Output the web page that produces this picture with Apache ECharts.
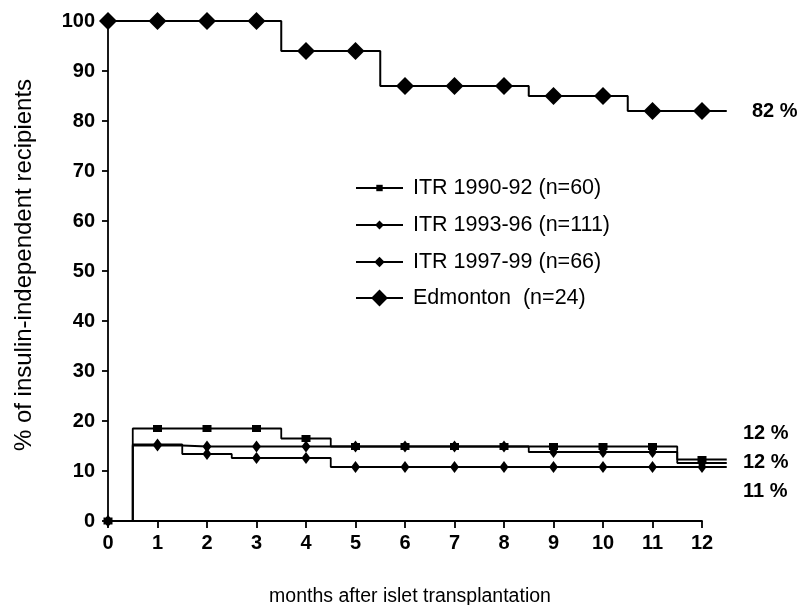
<!DOCTYPE html>
<html><head><meta charset="utf-8">
<script src="https://cdn.jsdelivr.net/npm/echarts@6/dist/echarts.min.js"></script>
<style>html,body{margin:0;padding:0;background:#fff}#c{width:807px;height:605px}</style>
</head><body><div id="c"></div>
<script>
// ---- data ----
const months = [0, 1, 2, 3, 4, 5, 6, 7, 8, 9, 10, 11, 12];
const itr9092 = [0, 18.5, 18.5, 18.5, 16.5, 14.9, 14.9, 14.9, 14.9, 14.9, 14.9, 14.9, 12.3];
const itr9396 = [0, 15.1, 14.9, 14.9, 14.9, 14.9, 14.9, 14.9, 14.9, 13.8, 13.8, 13.8, 11.6];
const itr9799 = [0, 15.3, 13.4, 12.6, 12.6, 10.8, 10.8, 10.8, 10.8, 10.8, 10.8, 10.8, 10.8];
const edmonton = [100, 100, 100, 100, 94, 94, 87, 87, 87, 85, 85, 82, 82];
const seriesNames = ['ITR 1990-92 (n=60)', 'ITR 1993-96 (n=111)', 'ITR 1997-99 (n=66)', 'Edmonton  (n=24)'];
const endLabels = ['82 %', '12 %', '12 %', '11 %'];
const xTitle = 'months after islet transplantation';
const yTitle = '% of insulin-independent recipients';

const lastMonth = months[months.length - 1];
const tailMonth = lastMonth + 0.5; // curves run half a month past the last observation

function stepData(vals) {
  const d = months.map((m, i) => [m, vals[i]]);
  d.push({ value: [tailMonth, vals[vals.length - 1]], symbol: 'none' });
  return d;
}

const allVals = [itr9092, itr9396, itr9799, edmonton];
const symbols = ['rect', 'diamond', 'diamond', 'diamond'];
const symSizes = [[9, 7], [9, 12], [9, 12], [18, 18]];
const lineWidths = [1.8, 1.8, 1.8, 2];
const legendIconH = [8, 11, 13, 21];
const legendCenters = [188, 225, 262, 298];
const labelPos = [[752, 112], [743, 434], [743, 463], [743, 492]];

const chart = echarts.init(document.getElementById('c'), null, { renderer: 'canvas' });
const FONT = 'Liberation Sans, Arial, sans-serif';

// plot area geometry: axis spans 0..lastMonth over axisW pixels; data grid is extended to tailMonth
const gLeft = 108, gRight = 105, gTop = 21, gBottom = 84;
const axisW = 807 - gLeft - gRight;
const dataRight = 807 - gLeft - axisW * tailMonth / lastMonth;

const option = {
  animation: false,
  backgroundColor: '#fff',
  grid: [
    { left: gLeft, right: dataRight, top: gTop, bottom: gBottom, containLabel: false, outerBoundsMode: 'none' },
    { left: gLeft, right: gRight, top: gTop, bottom: gBottom, containLabel: false, outerBoundsMode: 'none' }
  ],
  xAxis: [
    { type: 'value', gridIndex: 0, min: 0, max: tailMonth, show: false },
    {
      type: 'value', gridIndex: 1, min: 0, max: lastMonth, interval: 1,
      name: xTitle, nameLocation: 'middle', nameGap: 66,
      nameTextStyle: { fontSize: 19.5, fontFamily: FONT, color: '#000', padding: [0, 0, 0, 10] },
      axisLine: { show: true, onZero: false, lineStyle: { color: '#000', width: 1.8 } },
      axisTick: { show: true, length: 7, lineStyle: { color: '#000', width: 1.8 } },
      axisLabel: { fontSize: 20, fontWeight: 'bold', fontFamily: FONT, color: '#000', margin: 12 },
      splitLine: { show: false }
    }
  ],
  yAxis: [
    {
      type: 'value', gridIndex: 0, min: 0, max: 100, interval: 10,
      name: yTitle, nameLocation: 'middle', nameGap: 72, nameRotate: 90,
      nameTextStyle: { fontSize: 24, fontFamily: FONT, color: '#000', padding: [0, 0, 0, 12] },
      axisLine: { show: true, onZero: false, lineStyle: { color: '#000', width: 1.8 } },
      axisTick: { show: true, length: 6, lineStyle: { color: '#000', width: 1.8 } },
      axisLabel: { fontSize: 20, fontWeight: 'bold', fontFamily: FONT, color: '#000', margin: 13 },
      splitLine: { show: false }
    },
    { type: 'value', gridIndex: 1, min: 0, max: 100, show: false }
  ],
  legend: seriesNames.map((n, i) => ({
    data: [n], left: 355, top: legendCenters[i] - 11, orient: 'horizontal',
    itemWidth: 47, itemHeight: legendIconH[i], padding: 0, selectedMode: false,
    textStyle: { fontSize: 21.5, fontFamily: FONT, color: '#000', lineHeight: 22, padding: [0, 0, 0, 5] }
  })),
  graphic: endLabels.map((t, i) => ({
    type: 'text', left: labelPos[i][0], top: labelPos[i][1] - 11,
    style: { text: t, font: 'bold 20px ' + FONT, fill: '#000' }
  })),
  series: seriesNames.map((n, i) => ({
    type: 'line', name: n, data: stepData(allVals[i]), step: 'middle',
    xAxisIndex: 0, yAxisIndex: 0,
    symbol: symbols[i], symbolSize: symSizes[i], showAllSymbol: true, clip: false,
    lineStyle: { color: '#000', width: lineWidths[i] },
    itemStyle: { color: '#000', borderWidth: 0 },
    emphasis: { disabled: true },
    z: 2 + i
  }))
};
chart.setOption(option);
</script>
</body></html>
